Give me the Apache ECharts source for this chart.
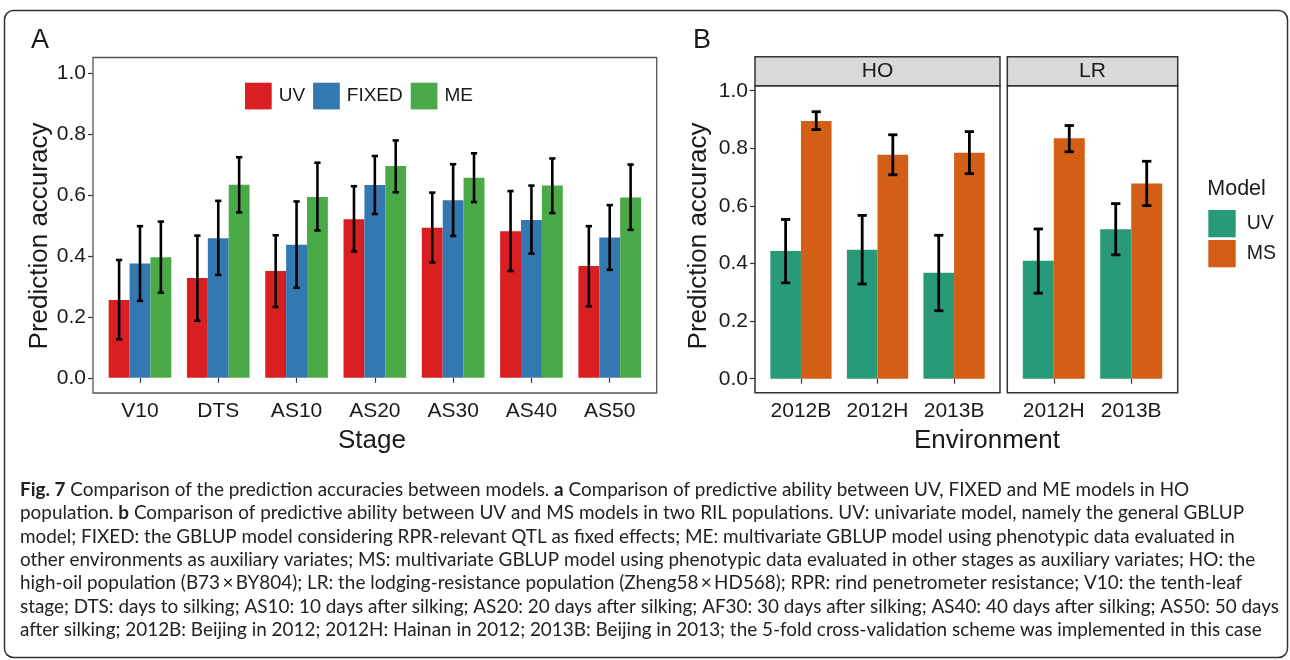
<!DOCTYPE html>
<html>
<head>
<meta charset="utf-8">
<script src="https://cdn.jsdelivr.net/npm/echarts@6/dist/echarts.min.js"></script>
<style>
  html, body { margin: 0; padding: 0; background: #fff; }
  #chart { width: 1290px; height: 660px; }
</style>
</head>
<body>
<div id="chart"></div>
<script>
// ---- Panel A: HO population, accuracy by growth stage ----
const stages = ['V10', 'DTS', 'AS10', 'AS20', 'AS30', 'AS40', 'AS50'];
const modelsA = ['UV', 'FIXED', 'ME'];
const uvMean    = [0.255, 0.327, 0.350, 0.520, 0.492, 0.480, 0.366];
const uvLow     = [0.126, 0.187, 0.232, 0.414, 0.378, 0.350, 0.234];
const uvHigh    = [0.386, 0.466, 0.467, 0.628, 0.607, 0.612, 0.497];
const fixedMean = [0.375, 0.457, 0.436, 0.632, 0.582, 0.517, 0.460];
const fixedLow  = [0.252, 0.337, 0.295, 0.537, 0.465, 0.407, 0.354];
const fixedHigh = [0.497, 0.580, 0.578, 0.727, 0.700, 0.630, 0.566];
const meMean    = [0.395, 0.633, 0.593, 0.694, 0.656, 0.630, 0.591];
const meLow     = [0.279, 0.542, 0.483, 0.608, 0.576, 0.540, 0.485];
const meHigh    = [0.512, 0.723, 0.705, 0.778, 0.736, 0.719, 0.699];

// ---- Panel B: UV vs MS in two RIL populations ----
const modelsB = ['UV', 'MS'];
const envHO = ['2012B', '2012H', '2013B'];
const hoUvMean = [0.443, 0.448, 0.368];
const hoUvLow  = [0.333, 0.329, 0.236];
const hoUvHigh = [0.553, 0.567, 0.498];
const hoMsMean = [0.895, 0.778, 0.785];
const hoMsLow  = [0.865, 0.708, 0.712];
const hoMsHigh = [0.927, 0.847, 0.858];
const envLR = ['2012H', '2013B'];
const lrUvMean = [0.410, 0.519];
const lrUvLow  = [0.297, 0.430];
const lrUvHigh = [0.520, 0.608];
const lrMsMean = [0.835, 0.678];
const lrMsLow  = [0.788, 0.601];
const lrMsHigh = [0.879, 0.755];

const yTicks = [0, 0.2, 0.4, 0.6, 0.8, 1.0];

const captionLines = [
  '{b|Fig. 7} Comparison of the prediction accuracies between models. {b|a} Comparison of predictive ability between UV, FIXED and ME models in HO',
  'population. {b|b} Comparison of predictive ability between UV and MS models in two RIL populations. UV: univariate model, namely the general GBLUP',
  'model; FIXED: the GBLUP model considering RPR-relevant QTL as fixed effects; ME: multivariate GBLUP model using phenotypic data evaluated in',
  'other environments as auxiliary variates; MS: multivariate GBLUP model using phenotypic data evaluated in other stages as auxiliary variates; HO: the',
  'high-oil population (B73\u2009\u00d7\u2009BY804); LR: the lodging-resistance population (Zheng58\u2009\u00d7\u2009HD568); RPR: rind penetrometer resistance; V10: the tenth-leaf',
  'stage; DTS: days to silking; AS10: 10 days after silking; AS20: 20 days after silking; AF30: 30 days after silking; AS40: 40 days after silking; AS50: 50 days',
  'after silking; 2012B: Beijing in 2012; 2012H: Hainan in 2012; 2013B: Beijing in 2013; the 5-fold cross-validation scheme was implemented in this case'
];

// ---- styling ----
const FONT = "'Liberation Sans', Arial, Helvetica, sans-serif";
const CAPFONT = "Lato, 'Open Sans', sans-serif";
const CAPSIZE = 18.9;
const TXT = '#1a1a1a';
const colorsA = ['#DA1F22', '#3478B1', '#4BAA48'];
const colorsB = ['#299A77', '#D35F17'];

// ---- layout (pixel frames of each panel) ----
const frameA  = { x0: 93,     x1: 656.7,  y0: 57.5, y1: 393 };
const frameHO = { x0: 755,    x1: 1000,   y0: 85.7, y1: 392.7 };
const frameLR = { x0: 1007.3, x1: 1177.7, y0: 85.7, y1: 392.7 };
const stripY0 = 56.7;

// ggplot-like expansion: 0.6 category units each side (n - 1 + 1.2 units), padded value range
function dataGrid(frame, nCat, yLo, yHi) {
  const u = (frame.x1 - frame.x0) / (nCat + 0.2);
  const perUnit = (frame.y1 - frame.y0) / (yHi - yLo);
  const top = frame.y0 + (yHi - 1) * perUnit;
  const bottom = frame.y1 + yLo * perUnit;   // yLo negative
  return {
    grid: { left: frame.x0 + 0.1 * u, width: nCat * u, top: top, height: bottom - top },
    xOff: frame.y1 - bottom,
    yOff: 0.1 * u
  };
}
const gA  = dataGrid(frameA, stages.length, -0.05, 1.05);
const gHO = dataGrid(frameHO, envHO.length, -0.0486, 1.0174);
const gLR = dataGrid(frameLR, envLR.length, -0.0486, 1.0174);

function makeGrid(g) {
  return Object.assign({ show: false, containLabel: false, outerBoundsMode: 'none' }, g.grid);
}

function xAxis(gridIndex, cats, offset) {
  return {
    type: 'category', gridIndex: gridIndex, data: cats, offset: offset,
    axisLine: { show: false },
    axisTick: { show: true, alignWithLabel: true, length: 5, lineStyle: { color: '#333', width: 1.2 } },
    axisLabel: { color: TXT, fontSize: 21, fontFamily: FONT, margin: 8, interval: 0, hideOverlap: false },
    splitLine: { show: false }
  };
}
function yAxis(gridIndex, offset, showLabels) {
  return {
    type: 'value', gridIndex: gridIndex, min: 0, max: 1, interval: 0.2, offset: offset,
    axisLine: { show: false },
    axisTick: { show: showLabels, length: 5, lineStyle: { color: '#333', width: 1.2 } },
    axisLabel: {
      show: showLabels, color: TXT, fontSize: 21, fontFamily: FONT, margin: 7,
      customValues: yTicks,
      formatter: v => v.toFixed(1)
    },
    splitLine: { show: false }
  };
}

function barSeries(name, axisIdx, values, color) {
  return {
    type: 'bar', name: name, xAxisIndex: axisIdx, yAxisIndex: axisIdx,
    data: values, barGap: '0%', barCategoryGap: '20%',
    itemStyle: { color: color }, silent: true
  };
}

// error bars placed on the dodged bar centre of series k out of m
function errorSeries(name, axisIdx, cats, k, m, low, high, lw) {
  return {
    type: 'custom', name: name, xAxisIndex: axisIdx, yAxisIndex: axisIdx, z: 5, silent: true,
    data: low.map((l, i) => [cats[i], l, high[i]]),
    encode: { x: 0, y: [1, 2] },
    renderItem: function (params, api) {
      const band = api.size([1, 0])[0];
      const bw = band * 0.8 / m;
      const dx = bw * (k - (m - 1) / 2);
      const pLo = api.coord([api.value(0), api.value(1)]);
      const pHi = api.coord([api.value(0), api.value(2)]);
      const x = pLo[0] + dx;
      const c = bw * 0.15;
      const st = { stroke: '#000', lineWidth: lw, lineCap: 'butt' };
      return {
        type: 'group',
        children: [
          { type: 'line', shape: { x1: x, y1: pLo[1], x2: x, y2: pHi[1] }, style: st },
          { type: 'line', shape: { x1: x - c, y1: pLo[1], x2: x + c, y2: pLo[1] }, style: st },
          { type: 'line', shape: { x1: x - c, y1: pHi[1], x2: x + c, y2: pHi[1] }, style: st }
        ]
      };
    }
  };
}

function frameRect(f, stroke, lw) {
  return {
    type: 'rect', silent: true, z: 10,
    shape: { x: f.x0, y: f.y0, width: f.x1 - f.x0, height: f.y1 - f.y0 },
    style: { fill: 'transparent', stroke: stroke, lineWidth: lw }
  };
}
function strip(f, label) {
  return [
    {
      type: 'rect', silent: true, z: 10,
      shape: { x: f.x0, y: stripY0, width: f.x1 - f.x0, height: f.y0 - stripY0 },
      style: { fill: '#D9D9D9', stroke: '#333', lineWidth: 1.5 }
    },
    {
      type: 'text', silent: true, z: 11,
      x: (f.x0 + f.x1) / 2, y: (stripY0 + f.y0) / 2,
      style: { text: label, fontSize: 21, fontFamily: FONT, fill: TXT,
               align: 'center', verticalAlign: 'middle', textAlign: 'center', textVerticalAlign: 'middle' }
    }
  ];
}
function label(text, x, y, size, opts) {
  return Object.assign({
    type: 'text', silent: true, z: 11, x: x, y: y,
    style: { text: text, fontSize: size, fontFamily: FONT, fill: TXT,
             align: 'center', verticalAlign: 'middle', textAlign: 'center', textVerticalAlign: 'middle' }
  }, opts || {});
}

const captionElems = captionLines.map((line, i) => ({
  type: 'text', silent: true, z: 11, x: 20, y: 490 + i * 23.35,
  style: {
    text: line, fontSize: CAPSIZE, fontFamily: CAPFONT, fill: '#222',
    align: 'left', verticalAlign: 'middle', textAlign: 'left', textVerticalAlign: 'middle',
    rich: { b: { fontSize: CAPSIZE, fontFamily: CAPFONT, fontWeight: 'bold', fill: '#222' } }
  }
}));

const option = {
  animation: false,
  backgroundColor: '#fff',
  grid: [makeGrid(gA), makeGrid(gHO), makeGrid(gLR)],
  xAxis: [
    xAxis(0, stages, gA.xOff),
    xAxis(1, envHO, gHO.xOff),
    xAxis(2, envLR, gLR.xOff)
  ],
  yAxis: [
    yAxis(0, gA.yOff, true),
    yAxis(1, gHO.yOff, true),
    yAxis(2, gLR.yOff, false)
  ],
  legend: [
    {
      left: 245, top: 82.7, padding: 0, orient: 'horizontal', icon: 'rect',
      itemWidth: 26.7, itemHeight: 26.7, itemGap: 8, selectedMode: false,
      textStyle: { fontSize: 19, fontFamily: FONT, color: TXT, padding: [0, 0, 0, 2] },
      data: modelsA.map((n, i) => ({ name: n, itemStyle: { color: colorsA[i] } }))
    },
    {
      left: 1208.3, top: 210, padding: 0, orient: 'vertical', icon: 'rect',
      itemWidth: 27.4, itemHeight: 27.3, itemGap: 2.7, selectedMode: false,
      textStyle: { fontSize: 19.5, fontFamily: FONT, color: TXT, padding: [0, 0, 0, 6] },
      data: modelsB.map((n, i) => ({ name: n, itemStyle: { color: colorsB[i] } }))
    }
  ],
  series: [
    barSeries('UV', 0, uvMean, colorsA[0]),
    barSeries('FIXED', 0, fixedMean, colorsA[1]),
    barSeries('ME', 0, meMean, colorsA[2]),
    errorSeries('UV interval', 0, stages, 0, 3, uvLow, uvHigh, 2.6),
    errorSeries('FIXED interval', 0, stages, 1, 3, fixedLow, fixedHigh, 2.6),
    errorSeries('ME interval', 0, stages, 2, 3, meLow, meHigh, 2.6),

    barSeries('UV', 1, hoUvMean, colorsB[0]),
    barSeries('MS', 1, hoMsMean, colorsB[1]),
    errorSeries('HO UV interval', 1, envHO, 0, 2, hoUvLow, hoUvHigh, 2.8),
    errorSeries('HO MS interval', 1, envHO, 1, 2, hoMsLow, hoMsHigh, 2.8),

    barSeries('UV', 2, lrUvMean, colorsB[0]),
    barSeries('MS', 2, lrMsMean, colorsB[1]),
    errorSeries('LR UV interval', 2, envLR, 0, 2, lrUvLow, lrUvHigh, 2.8),
    errorSeries('LR MS interval', 2, envLR, 1, 2, lrMsLow, lrMsHigh, 2.8)
  ],
  graphic: [
    // outer figure border
    {
      type: 'rect', silent: true, z: 1,
      shape: { x: 4.5, y: 10.5, width: 1283, height: 647, r: 9 },
      style: { fill: 'transparent', stroke: '#333', lineWidth: 1.5 }
    },
    frameRect(frameA, '#555', 1.3),
    frameRect(frameHO, '#333', 1.5),
    frameRect(frameLR, '#333', 1.5),
    ...strip(frameHO, 'HO'),
    ...strip(frameLR, 'LR'),
    label('A', 40, 41, 27),
    label('B', 702, 41, 27),
    label('Prediction accuracy', 40, 236, 26, { rotation: Math.PI / 2 }),
    label('Prediction accuracy', 699, 236, 26, { rotation: Math.PI / 2 }),
    label('Stage', 372, 441, 26),
    label('Environment', 987, 441, 26),
    {
      type: 'text', silent: true, z: 11, x: 1207.3, y: 189,
      style: { text: 'Model', fontSize: 21.5, fontFamily: FONT, fill: TXT,
               align: 'left', verticalAlign: 'middle', textAlign: 'left', textVerticalAlign: 'middle' }
    },
    ...captionElems
  ]
};

const chart = echarts.init(document.getElementById('chart'), null, { renderer: 'canvas' });
chart.setOption(option);
</script>
</body>
</html>
